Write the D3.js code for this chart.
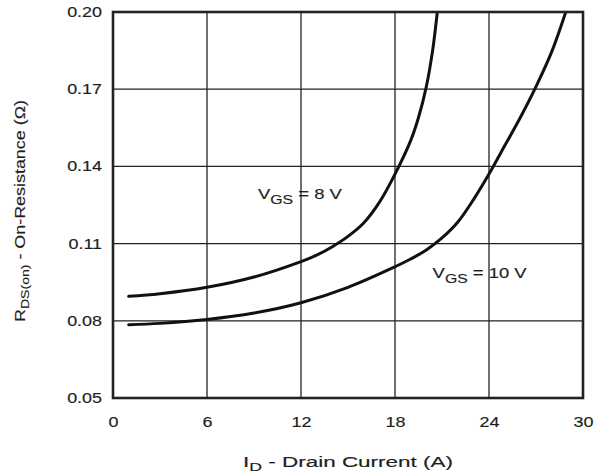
<!DOCTYPE html>
<html>
<head>
<meta charset="utf-8">
<script src="https://cdn.jsdelivr.net/npm/d3@7"></script>
<style>
  html, body { margin: 0; padding: 0; background: #fff; }
  svg text { font-family: "Liberation Sans", Arial, sans-serif; fill: #1e1e1e; stroke: #1e1e1e; stroke-width: 0.15; }
</style>
</head>
<body>
<svg id="chart" width="608" height="474"></svg>
<script>
// On-resistance vs drain current, two gate voltages
const xTicks = [0, 6, 12, 18, 24, 30];
const yTicks = [0.05, 0.08, 0.11, 0.14, 0.17, 0.20];

const idVgs8  = [1, 3, 6, 9, 12, 13, 14, 15, 16, 17, 18, 19, 19.5, 20, 20.4, 20.7];
const rdsVgs8 = [0.0895, 0.0905, 0.093, 0.097, 0.103, 0.1055, 0.1088, 0.1128, 0.118, 0.126, 0.137, 0.150, 0.159, 0.171, 0.185, 0.20];

const idVgs10  = [1, 3, 6, 9, 12, 15, 18, 19, 20, 21, 22, 23, 24, 25, 26, 27, 28, 28.9];
const rdsVgs10 = [0.0785, 0.079, 0.0805, 0.083, 0.087, 0.093, 0.101, 0.104, 0.1075, 0.1122, 0.1183, 0.127, 0.137, 0.148, 0.159, 0.171, 0.1845, 0.20];

const seriesLabels = [
  { id: 9.25, r: 0.1275, vgs: "8", width: 84 },
  { id: 20.4, r: 0.0965, vgs: "10", width: 94 }
];

const svg = d3.select("#chart");
const m = { left: 113, right: 583, top: 12, bottom: 398 };

const x = d3.scaleLinear().domain([0, 30]).range([m.left, m.right]);
const y = d3.scaleLinear().domain([0.05, 0.20]).range([m.bottom, m.top]);

// stretch text horizontally to the printed face width
function widen(sel, factor) {
  sel.each(function () {
    const len = this.getComputedTextLength();
    d3.select(this).attr("textLength", len * factor).attr("lengthAdjust", "spacingAndGlyphs");
  });
}

// grid
const grid = svg.append("g");
grid.selectAll("line.v").data(xTicks.slice(1, -1)).join("line")
  .attr("x1", d => x(d)).attr("x2", d => x(d))
  .attr("y1", m.top).attr("y2", m.bottom)
  .attr("stroke", "#222").attr("stroke-width", 1.3);
grid.selectAll("line.h").data(yTicks.slice(1, -1)).join("line")
  .attr("x1", m.left).attr("x2", m.right)
  .attr("y1", d => y(d)).attr("y2", d => y(d))
  .attr("stroke", "#222").attr("stroke-width", 1.3);

// curves
const line = d3.line().x(d => x(d[0])).y(d => y(d[1])).curve(d3.curveCatmullRom.alpha(0.5));
svg.append("clipPath").attr("id", "plot")
  .append("rect").attr("x", m.left).attr("y", m.top)
  .attr("width", m.right - m.left).attr("height", m.bottom - m.top);
[[idVgs8, rdsVgs8], [idVgs10, rdsVgs10]].forEach(([xs, ys]) => {
  svg.append("path")
    .attr("d", line(xs.map((v, i) => [v, ys[i]])))
    .attr("fill", "none").attr("stroke", "#111").attr("stroke-width", 3)
    .attr("stroke-linecap", "round")
    .attr("clip-path", "url(#plot)");
});

// frame
svg.append("rect").attr("x", m.left).attr("y", m.top)
  .attr("width", m.right - m.left).attr("height", m.bottom - m.top)
  .attr("fill", "none").attr("stroke", "#222").attr("stroke-width", 2.6);

// axes (labels only)
const xAxis = d3.axisBottom(x).tickValues(xTicks).tickSize(0).tickPadding(19).tickFormat(d3.format("d"));
const yAxis = d3.axisLeft(y).tickValues(yTicks).tickSize(0).tickPadding(11).tickFormat(d3.format(".2f"));
const gx = svg.append("g").attr("transform", `translate(0,${m.bottom})`).call(xAxis);
const gy = svg.append("g").attr("transform", `translate(${m.left},0)`).call(yAxis);
[gx, gy].forEach(g => {
  g.select(".domain").remove();
  g.selectAll("text").attr("font-size", 14)
    .attr("font-family", "Liberation Sans, Arial, sans-serif").attr("fill", "#1e1e1e");
  widen(g.selectAll("text"), 1.28);
});

// series labels
seriesLabels.forEach(s => {
  const t = svg.append("text")
    .attr("x", x(s.id)).attr("y", y(s.r))
    .attr("font-size", 14)
    .attr("textLength", s.width).attr("lengthAdjust", "spacingAndGlyphs");
  t.append("tspan").text("V");
  t.append("tspan").attr("dy", 5).attr("font-size", 12).text("GS");
  t.append("tspan").attr("dy", -5).text(` = ${s.vgs} V`);
});

// axis titles
const xt = svg.append("text").attr("x", 243).attr("y", 467)
  .attr("font-size", 14)
  .attr("textLength", 210).attr("lengthAdjust", "spacingAndGlyphs");
xt.append("tspan").text("I");
xt.append("tspan").attr("dy", 4).attr("font-size", 11).text("D");
xt.append("tspan").attr("dy", -4).text(" - Drain Current (A)");

const yt = svg.append("text").attr("transform", "translate(25,322) rotate(-90)")
  .attr("font-size", 14)
  .attr("textLength", 222).attr("lengthAdjust", "spacingAndGlyphs");
yt.append("tspan").text("R");
yt.append("tspan").attr("dy", 4).attr("font-size", 11).text("DS(on)");
yt.append("tspan").attr("dy", -4).text(" - On-Resistance (Ω)");
</script>
</body>
</html>
